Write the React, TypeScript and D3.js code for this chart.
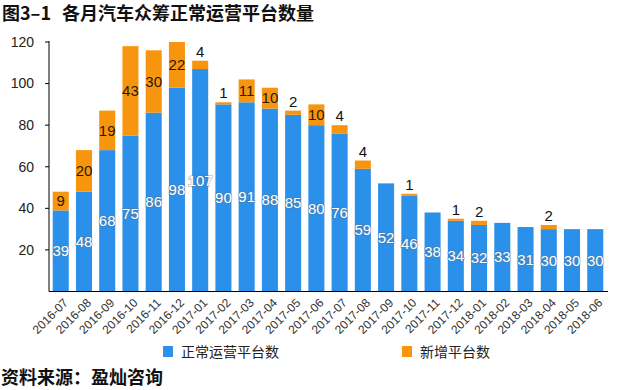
import React from "react";
import * as d3 from "d3";

const months = [
  "2016-07", "2016-08", "2016-09", "2016-10", "2016-11", "2016-12",
  "2017-01", "2017-02", "2017-03", "2017-04", "2017-05", "2017-06",
  "2017-07", "2017-08", "2017-09", "2017-10", "2017-11", "2017-12",
  "2018-01", "2018-02", "2018-03", "2018-04", "2018-05", "2018-06",
];
const normal = [39, 48, 68, 75, 86, 98, 107, 90, 91, 88, 85, 80, 76, 59, 52, 46, 38, 34, 32, 33, 31, 30, 30, 30];
const added = [9, 20, 19, 43, 30, 22, 4, 1, 11, 10, 2, 10, 4, 4, 0, 1, 0, 1, 2, 0, 0, 2, 0, 0];
const yTicks = [20, 40, 60, 80, 100, 120];

const BLUE = "#2a90ea";
const ORANGE = "#f8950e";
const FONT = "'Helvetica Neue', 'Liberation Sans', Arial, sans-serif";
const CJK = "'Noto Sans CJK SC', sans-serif";

export default function App() {
  const width = 640;
  const height = 390;

  const x = d3.scaleBand<string>()
    .domain(months)
    .range([49, 607])
    .paddingInner(0.31)
    .paddingOuter(0.16);
  const y = d3.scaleLinear().domain([0, 120]).range([291.5, 42]);
  const bw = x.bandwidth();

  return (
    <svg width={width} height={height} style={{ position: "absolute", left: 0, top: 0, background: "#fff" }}>
      <g fontFamily={CJK} fontWeight="bold" fontSize={18} fill="#111">
        <text x={2} y={20}>图3–1</text>
        <text x={62} y={20}>各月汽车众筹正常运营平台数量</text>
      </g>

      {/* bars */}
      {months.map((m, i) => {
        const x0 = x(m)!;
        const n = normal[i];
        const a = added[i];
        return (
          <g key={m}>
            <rect x={x0} width={bw} y={y(n)} height={y(0) - y(n)} fill={BLUE} />
            {a > 0 && (
              <rect x={x0} width={bw} y={y(n + a)} height={y(n) - y(n + a)} fill={ORANGE} />
            )}
          </g>
        );
      })}

      {/* labels */}
      {months.map((m, i) => {
        const cx = x(m)! + bw / 2;
        const n = normal[i];
        const a = added[i];
        return (
          <g key={"l" + m} fontFamily={FONT} fontSize={15} textAnchor="middle">
            <text
              x={cx}
              y={y(n / 2)}
              dy="0.35em"
              fill="#fff"
              stroke="rgba(110,110,110,0.35)"
              strokeWidth={2}
              style={{ paintOrder: "stroke" }}
            >
              {n}
            </text>
            {a >= 9 && (
              <text x={cx} y={y(n + a / 2)} dy="0.35em" fill="#2a1a05">{a}</text>
            )}
            {a > 0 && a < 9 && (
              <text x={cx} y={y(n + a) - 4} fill="#111">{a}</text>
            )}
          </g>
        );
      })}

      {/* y axis */}
      <line x1={49} x2={49} y1={y(120) - 1} y2={y(0)} stroke="#000" strokeWidth={1} />
      {yTicks.map((t) => (
        <g key={t} transform={`translate(0,${y(t)})`}>
          <line x1={45} x2={49} stroke="#000" />
          <text x={34} dy="0.35em" textAnchor="end" fontFamily={FONT} fontSize={14} fill="#222">{t}</text>
        </g>
      ))}

      {/* x axis */}
      <line x1={49} x2={608} y1={y(0)} y2={y(0)} stroke="#000" strokeWidth={1} />
      {months.map((m) => {
        const cx = x(m)! + bw / 2;
        return (
          <text
            key={"x" + m}
            transform={`translate(${cx + 8},${y(0) + 12}) rotate(-45)`}
            textAnchor="end"
            fontFamily={FONT}
            fontSize={12}
            fill="#333"
          >
            {m}
          </text>
        );
      })}

      {/* legend */}
      <rect x={163} y={346} width={10} height={11} fill={BLUE} />
      <text x={181} y={357} fontFamily={CJK} fontSize={14} fill="#222">正常运营平台数</text>
      <rect x={402} y={346} width={10} height={11} fill={ORANGE} />
      <text x={420} y={357} fontFamily={CJK} fontSize={14} fill="#222">新增平台数</text>

      <text x={1} y={384} fontFamily={CJK} fontWeight="bold" fontSize={18} fill="#111">
        资料来源：盈灿咨询
      </text>
    </svg>
  );
}
